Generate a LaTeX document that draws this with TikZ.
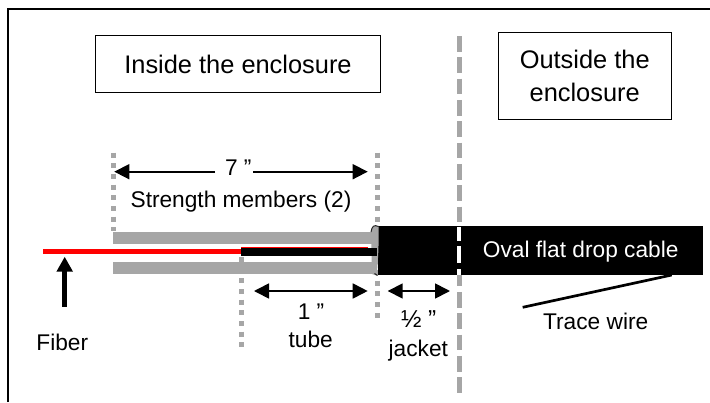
\documentclass[tikz,border=0pt]{standalone}
\usepackage{fontspec}
\setmainfont{Liberation Sans}
\usetikzlibrary{arrows.meta}
\definecolor{memgray}{HTML}{A6A6A6}
\definecolor{fibred}{HTML}{FF0000}
\tikzset{
  x=1pt,y=-1pt,
  bigtxt/.style={font=\fontsize{25.4}{32.5}\selectfont,align=center},
  smalltxt/.style={font=\fontsize{22.7}{27}\selectfont,anchor=base,inner sep=0pt},
  labelbox/.style={draw=black,line width=1pt,fill=white,inner sep=0pt,bigtxt},
  dots/.style={draw=memgray,line width=5pt,dash pattern=on 5pt off 5.67pt},
  partition/.style={draw=memgray,line width=5pt,dash pattern=on 15.7pt off 5.63pt},
  gapmark/.style={draw=white,line width=4pt},
  dim/.style={draw=black,line width=1.7pt,-{Triangle[length=15pt,width=15pt]}},
  dimboth/.style={draw=black,line width=1.7pt,{Triangle[length=15pt,width=15pt]}-{Triangle[length=15pt,width=15pt]}},
}
\begin{document}
\begin{tikzpicture}
\useasboundingbox (0,0) rectangle (710,402);
% frame
\draw[line width=2pt,black] (8.2,402) -- (8.2,9.3) -- (710,9.3);
% boxes
\node[labelbox,minimum width=285.4pt,minimum height=56.6pt] (inside) at (238,64) {Inside the enclosure};
\node[labelbox,minimum width=173.3pt,minimum height=87pt] (outside) at (584.7,75.8) {Outside the\\enclosure};
% partition
\coordinate (partT) at (459.3,36);
\coordinate (partB) at (459.3,397);
\draw[partition] (partT) -- (partB);
% dotted guides behind the cable
\coordinate (dotAT) at (113.2,152.7);
\coordinate (dotAB) at (113.2,231);
\coordinate (dotCT) at (377.3,152.7);
\coordinate (dotCB) at (377.3,321);
\draw[dots] (dotAT) -- (dotAB);
\draw[dots] (dotCT) -- (dotCB);
% strength members
\fill[memgray] (113.3,232.2) rectangle (376,244);
\fill[memgray] (113.3,262) rectangle (376,273.8);
\coordinate (dotBT) at (241,257);
\coordinate (dotBB) at (241,348);
\draw[dots] (dotBT) -- (dotBB);
% cable
\node[fill=black,draw=none,inner sep=0pt,minimum width=325.3pt,minimum height=49.4pt] (cable) at (540.7,250.4) {};
% white gaps of the partition over the cable
\draw[gapmark] (459.3,227.3) -- (459.3,240.7);
\draw[gapmark] (459.3,246) -- (459.3,263.3);
\draw[gapmark] (459.3,269.3) -- (459.3,274.7);
% cut end of the jacket
\fill[memgray] (371,232) .. controls (372,226) and (374,224) .. (378.5,226.5)
  .. controls (379,245) and (378,262) .. (376.5,275.5) -- (372,274) -- cycle;
\draw[black!85,line width=1pt] (371,232) .. controls (372,226) and (374,224.5) .. (378.5,226.5);
\draw[black!85,line width=1pt] (374.5,273.5) -- (377.5,275.5);
% fiber and tube
\fill[fibred] (42.7,248.8) rectangle (241,254.3);
\fill[black] (241,248.2) rectangle (377.3,255.9);
\fill[fibred] (241,247.2) rectangle (368,248.4);
% dimension arrows
\coordinate (a7L) at (114.3,171.7);
\coordinate (a7Lend) at (215,171.7);
\coordinate (a7R) at (367.7,171.7);
\coordinate (a7Rend) at (253.3,171.7);
\draw[dim] (a7Lend) -- (a7L);
\draw[dim] (a7Rend) -- (a7R);
\coordinate (a1L) at (254,291);
\coordinate (a1R) at (367.7,291);
\draw[dimboth] (a1L) -- (a1R);
\coordinate (ahL) at (387.7,291);
\coordinate (ahR) at (450,291);
\draw[dimboth] (ahL) -- (ahR);
% fiber arrow
\coordinate (fibTail) at (64.7,306.7);
\coordinate (fibTip) at (64.7,256.7);
\draw[black,line width=5.3pt,-{Triangle[length=15pt,width=15.5pt]}] (fibTail) -- (fibTip);
% trace wire
\coordinate (wireA) at (671.7,275);
\coordinate (wireB) at (522.7,307.3);
\draw[black,line width=2.7pt] (wireA) -- (wireB);
% texts
\node[smalltxt] (seven) at (238.3,175.7) {7 ”};
\node[smalltxt] (strength) at (241,207.7) {Strength members (2)};
\node[smalltxt] (one) at (311,319) {1 ”};
\node[smalltxt] (tube) at (310.7,347.3) {tube};
\node[smalltxt] (fiber) at (62.3,350.7) {Fiber};
\node[smalltxt,font=\fontsize{24.5}{27}\selectfont] (half) at (418.7,327.3) {½ ”};
\node[smalltxt] (jacket) at (418.3,356) {jacket};
\node[smalltxt,text=white] (oval) at (580.7,257.3) {Oval flat drop cable};
\node[smalltxt] (trace) at (595.7,329) {Trace wire};
\end{tikzpicture}
\end{document}
